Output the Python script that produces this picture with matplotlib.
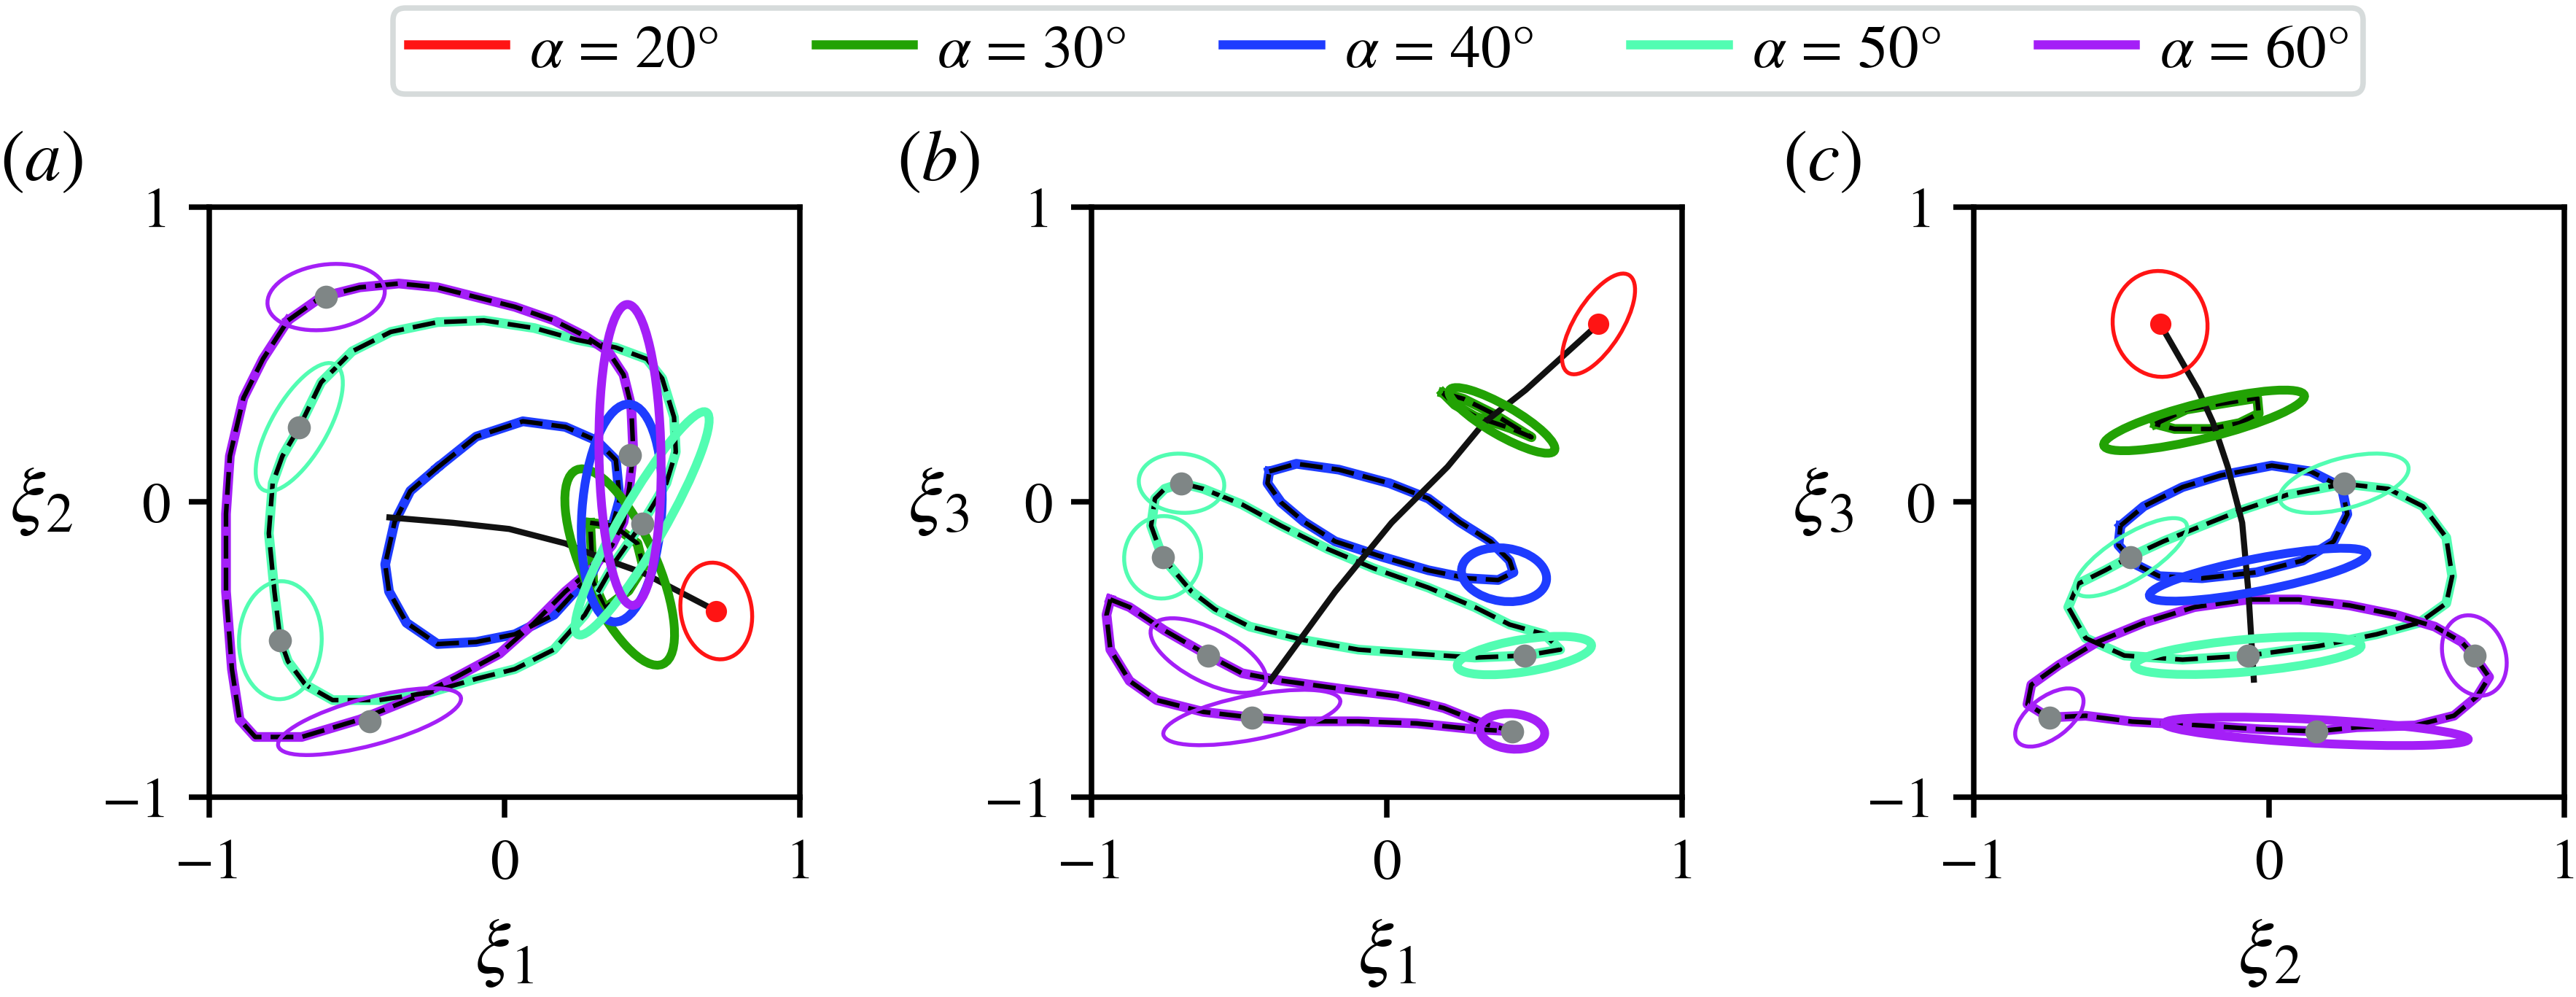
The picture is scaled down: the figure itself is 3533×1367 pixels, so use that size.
import matplotlib
matplotlib.use('Agg')
import matplotlib.pyplot as plt
from matplotlib.patches import Ellipse
from matplotlib.lines import Line2D

plt.rcParams['font.family'] = ['STIXGeneral', 'DejaVu Serif']
plt.rcParams['mathtext.fontset'] = 'stix'

# colours for each alpha
alphas = [20, 30, 40, 50, 60]
colors = ['#ff1414', '#22a204', '#1e3cff', '#52fdb2', '#a41ff7']

# path of the mean state over alpha (xi1, xi2, xi3)
mean_x1 = [0.717, 0.47, 0.33, 0.206, 0.016, -0.175, -0.40]
mean_x2 = [-0.369, -0.24, -0.19, -0.14, -0.091, -0.07, -0.051]
mean_x3 = [0.604, 0.38, 0.27, 0.12, -0.07, -0.304, -0.612]

# trajectories, panel (a): xi1 vs xi2
a_30_x = [0.29, 0.37, 0.45, 0.47, 0.42, 0.34, 0.30, 0.29]
a_30_y = [-0.07, -0.08, -0.14, -0.22, -0.30, -0.36, -0.27, -0.07]
a_40_x = [-0.227, -0.096, 0.062, 0.206, 0.311, 0.377, 0.390, 0.351, 0.298, 0.167, 0.035, -0.096,
          -0.227, -0.332, -0.391, -0.404, -0.372, -0.319, -0.227]
a_40_y = [0.117, 0.222, 0.274, 0.255, 0.209, 0.143, 0.010, -0.133, -0.238, -0.382, -0.448, -0.474,
          -0.481, -0.409, -0.303, -0.211, -0.067, 0.038, 0.117]
a_50_x = [-0.695, -0.621, -0.516, -0.385, -0.227, -0.070, 0.101, 0.246, 0.377, 0.482, 0.534, 0.574,
          0.580, 0.548, 0.469, 0.377, 0.272, 0.167, 0.035, -0.096, -0.253, -0.424, -0.582, -0.674,
          -0.733, -0.759, -0.779, -0.798, -0.785, -0.752, -0.695]
a_50_y = [0.254, 0.406, 0.511, 0.577, 0.610, 0.616, 0.590, 0.550, 0.524, 0.485, 0.419, 0.288,
          0.170, 0.064, -0.067, -0.198, -0.382, -0.500, -0.566, -0.599, -0.645, -0.671, -0.671, -0.619,
          -0.540, -0.468, -0.303, -0.106, 0.064, 0.156, 0.254]
a_60_x = [-0.733, -0.621, -0.490, -0.358, -0.227, -0.096, 0.035, 0.167, 0.272, 0.351, 0.403, 0.429,
          0.436, 0.423, 0.403, 0.364, 0.298, 0.206, 0.100, -0.017, -0.162, -0.293, -0.490, -0.687,
          -0.844, -0.897, -0.923, -0.943, -0.943, -0.930, -0.884, -0.818, -0.733]
a_60_y = [0.616, 0.695, 0.728, 0.741, 0.728, 0.695, 0.662, 0.616, 0.563, 0.511, 0.432, 0.327,
          0.170, 0.051, -0.067, -0.146, -0.225, -0.303, -0.410, -0.514, -0.592, -0.658, -0.737, -0.796,
          -0.796, -0.737, -0.566, -0.303, -0.040, 0.156, 0.353, 0.485, 0.616]

# trajectories, panel (b): xi1 vs xi3
b_30_x = [0.19, 0.26, 0.36, 0.49, 0.42, 0.30, 0.23, 0.19]
b_30_y = [0.37, 0.35, 0.30, 0.22, 0.25, 0.29, 0.33, 0.37]
b_40_x = [-0.398, -0.306, -0.162, 0.009, 0.141, 0.246, 0.351, 0.416, 0.429, 0.377, 0.272, 0.141,
          -0.017, -0.175, -0.280, -0.358, -0.404, -0.398]
b_40_y = [0.104, 0.130, 0.110, 0.064, 0.012, -0.067, -0.133, -0.198, -0.238, -0.264, -0.258, -0.231,
          -0.185, -0.133, -0.067, -0.001, 0.064, 0.104]
b_50_x = [-0.695, -0.621, -0.490, -0.358, -0.200, -0.043, 0.141, 0.298, 0.416, 0.534, 0.587, 0.469,
          0.298, 0.101, -0.096, -0.280, -0.464, -0.582, -0.661, -0.759, -0.798, -0.785, -0.752, -0.695]
b_50_y = [0.064, 0.045, -0.008, -0.080, -0.159, -0.225, -0.290, -0.356, -0.415, -0.448, -0.500, -0.520,
          -0.527, -0.514, -0.500, -0.468, -0.422, -0.363, -0.303, -0.188, -0.080, 0.012, 0.045, 0.064]
b_60_x = [-0.936, -0.871, -0.752, -0.604, -0.490, -0.358, -0.162, 0.035, 0.193, 0.324, 0.429, 0.298,
          0.101, -0.096, -0.293, -0.457, -0.621, -0.779, -0.871, -0.936, -0.949, -0.936]
b_60_y = [-0.330, -0.356, -0.435, -0.520, -0.580, -0.605, -0.632, -0.658, -0.698, -0.750, -0.777, -0.770,
          -0.750, -0.743, -0.743, -0.730, -0.711, -0.671, -0.606, -0.500, -0.382, -0.330]

# trajectories, panel (c): xi2 vs xi3
c_30_x = [-0.385, -0.28, -0.16, -0.04, -0.035, -0.10, -0.20, -0.32, -0.385]
c_30_y = [0.265, 0.314, 0.334, 0.353, 0.30, 0.268, 0.248, 0.248, 0.265]
c_40_x = [-0.503, -0.424, -0.293, -0.162, 0.009, 0.141, 0.246, 0.265, 0.219, 0.114, -0.043, -0.227,
          -0.372, -0.450, -0.510, -0.503]
c_40_y = [-0.080, -0.014, 0.051, 0.091, 0.124, 0.104, 0.051, -0.041, -0.133, -0.198, -0.238, -0.258,
          -0.251, -0.212, -0.146, -0.080]
c_50_x = [0.256, 0.403, 0.521, 0.600, 0.620, 0.600, 0.508, 0.364, 0.167, -0.070, -0.293, -0.490,
          -0.621, -0.680, -0.647, -0.555, -0.466, -0.358, -0.227, -0.096, 0.062, 0.256]
c_50_y = [0.062, 0.045, -0.014, -0.120, -0.251, -0.343, -0.409, -0.448, -0.488, -0.520, -0.534, -0.520,
          -0.461, -0.356, -0.277, -0.231, -0.183, -0.133, -0.080, -0.028, 0.025, 0.062]
c_60_x = [0.696, 0.745, 0.705, 0.626, 0.495, 0.298, 0.160, -0.030, -0.227, -0.464, -0.621, -0.746,
          -0.818, -0.805, -0.713, -0.582, -0.424, -0.253, -0.070, 0.101, 0.272, 0.429, 0.561, 0.652, 0.696]
c_60_y = [-0.523, -0.593, -0.658, -0.724, -0.757, -0.763, -0.777, -0.770, -0.757, -0.744, -0.724, -0.730,
          -0.685, -0.619, -0.553, -0.474, -0.409, -0.356, -0.330, -0.330, -0.350, -0.382, -0.422, -0.474, -0.523]

# uncertainty ellipses: centres in (xi1, xi2, xi3)
ell_alpha = [20, 30, 40, 50, 50, 50, 60, 60, 60]
ell_x1 = [0.717, 0.39, 0.397, -0.695, -0.759, 0.466, -0.604, -0.457, 0.425]
ell_x2 = [-0.369, -0.22, -0.037, 0.254, -0.468, -0.072, 0.695, -0.744, 0.160]
ell_x3 = [0.604, 0.277, -0.246, 0.064, -0.187, -0.520, -0.520, -0.730, -0.777]
ell_thick = [False, True, True, False, False, True, False, False, True]
ell_dot = [False, False, False, True, True, True, True, True, True]

# ellipse sizes in each projection
a_w = [0.33, 0.72, 0.74, 0.49, 0.40, 0.87, 0.40, 0.64, 1.02]
a_h = [0.24, 0.25, 0.27, 0.19, 0.28, 0.15, 0.22, 0.16, 0.21]
a_ang = [100, 114, 86, 60, 88, 60, 8, 15, 91]
b_w = [0.39, 0.41, 0.29, 0.29, 0.28, 0.46, 0.43, 0.61, 0.22]
b_h = [0.16, 0.10, 0.18, 0.20, 0.26, 0.11, 0.18, 0.15, 0.12]
b_ang = [58, -30, -8, -5, 80, 9, -27, 11, -5]
c_w = [0.36, 0.70, 0.75, 0.45, 0.44, 0.77, 0.28, 0.27, 1.03]
c_h = [0.32, 0.12, 0.11, 0.17, 0.15, 0.11, 0.21, 0.14, 0.08]
c_ang = [100, 14, 11, 15, 32, 5, 110, 37, -3]

panels = [
    ('a', r'$\xi_1$', r'$\xi_2$', mean_x1, mean_x2, ell_x1, ell_x2, a_w, a_h, a_ang,
     [(30, a_30_x, a_30_y), (40, a_40_x, a_40_y), (50, a_50_x, a_50_y), (60, a_60_x, a_60_y)], -0.284),
    ('b', r'$\xi_1$', r'$\xi_3$', mean_x1, mean_x3, ell_x1, ell_x3, b_w, b_h, b_ang,
     [(30, b_30_x, b_30_y), (40, b_40_x, b_40_y), (50, b_50_x, b_50_y), (60, b_60_x, b_60_y)], -0.259),
    ('c', r'$\xi_2$', r'$\xi_3$', mean_x2, mean_x3, ell_x2, ell_x3, c_w, c_h, c_ang,
     [(30, c_30_x, c_30_y), (40, c_40_x, c_40_y), (50, c_50_x, c_50_y), (60, c_60_x, c_60_y)], -0.256),
]

fig = plt.figure(figsize=(3533 / 300, 1368 / 300), dpi=300)
lefts = [0.0812, 0.4237, 0.7662]

for left, p in zip(lefts, panels):
    tag, xl, yl, mx, my, ex, ey, ew, eh, ea, trajs, ylab_x = p
    ax = fig.add_axes([left, 0.2003, 0.2293, 0.5914])

    for a, tx, ty in trajs:
        col = colors[alphas.index(a)]
        ax.plot(tx, ty, color=col, lw=3.2, solid_joinstyle='round', zorder=2)
        ax.plot(tx, ty, color='black', lw=1.5, ls=(0, (5, 2)), zorder=3)

    ax.plot(mx, my, color='#111111', lw=2.0, zorder=4, solid_capstyle='butt')

    for i in range(len(ell_alpha)):
        col = colors[alphas.index(ell_alpha[i])]
        lw = 2.9 if ell_thick[i] else 1.3
        e = Ellipse((ex[i], ey[i]), ew[i], eh[i], angle=ea[i], fill=False,
                    edgecolor=col, lw=lw, zorder=5)
        ax.add_patch(e)
        if ell_dot[i]:
            ax.plot(ex[i], ey[i], 'o', color='#7f8686', ms=7.6, mec='none', zorder=6)

    # fixed point at alpha = 20
    ax.plot(mx[0], my[0], 'o', color=colors[0], ms=7, mec='none', zorder=6)

    ax.set_xlim(-1, 1)
    ax.set_ylim(-1, 1)
    ax.set_xticks([-1, 0, 1])
    ax.set_yticks([-1, 0, 1])
    ax.set_xticklabels(['\u22121', '0', '1'])
    ax.set_yticklabels(['\u22121', '0', '1'])
    ax.tick_params(direction='out', length=6.8, width=1.8, labelsize=19)
    ax.tick_params(axis='x', pad=7)
    ax.tick_params(axis='y', pad=6)
    for s in ax.spines.values():
        s.set_linewidth(1.8)

    ax.set_xlabel(xl, fontsize=26, va='center')
    ax.xaxis.set_label_coords(0.5, -0.265)
    ax.set_ylabel(yl, fontsize=26, rotation=0, va='center', ha='center')
    ax.yaxis.set_label_coords(ylab_x, 0.5)
    ax.text(ylab_x, 1.075, r'$(%s)$' % tag, transform=ax.transAxes, fontsize=24,
            ha='center', va='center')

handles = [Line2D([], [], color=c, lw=3.0) for c in colors]
labels = [r'$\alpha$ = %d°' % a for a in alphas]
leg = fig.legend(handles, labels, loc='upper center', bbox_to_anchor=(0.535, 0.997), ncol=5,
                 fontsize=20, frameon=True, fancybox=True, framealpha=1, edgecolor='#d6dbdb',
                 handlelength=1.6, handletextpad=0.4, columnspacing=1.6, borderpad=0.25,
                 borderaxespad=0.1)
leg.get_frame().set_linewidth(1.8)

fig.savefig('out.png', dpi=300)
